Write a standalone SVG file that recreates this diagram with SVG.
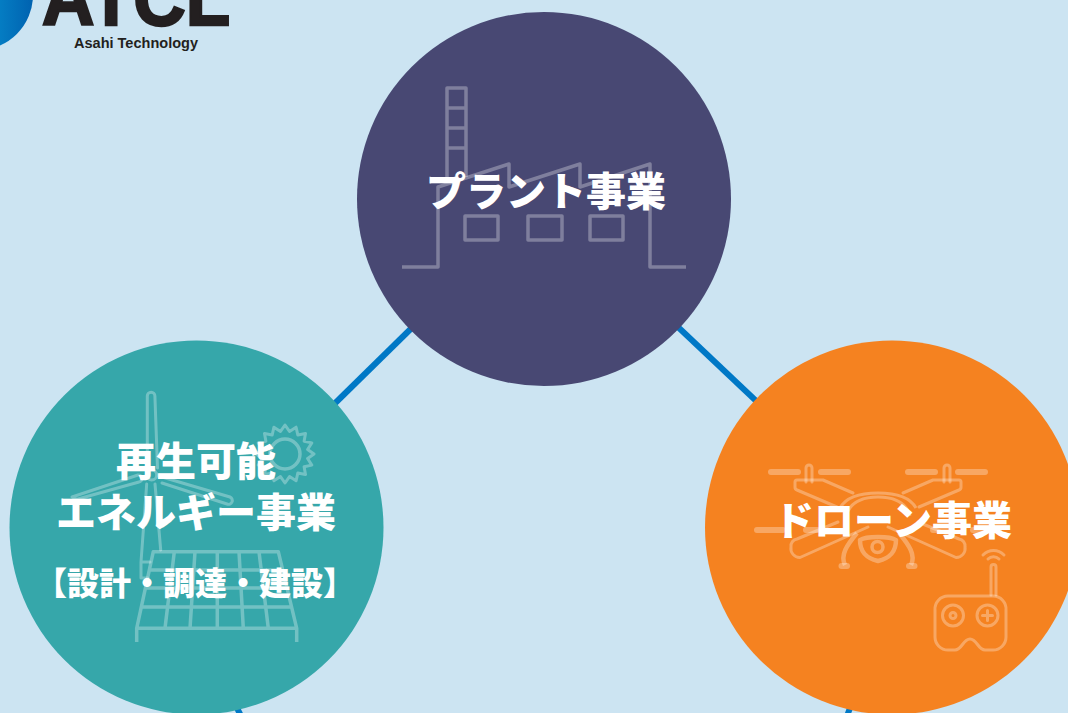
<svg xmlns="http://www.w3.org/2000/svg" xmlns:xlink="http://www.w3.org/1999/xlink" width="1068" height="713" viewBox="0 0 1068 713">
<style>
.circle-label{font-family:"Noto Sans CJK JP","Noto Sans CJK SC",sans-serif;font-weight:900;fill:#fff;text-anchor:middle;font-size:40px}
.sub{font-size:32px}
.ico{fill:none;stroke:#fff;stroke-opacity:.3;stroke-width:3.500;stroke-linejoin:round}
.ico2{fill:none;stroke:#fff;stroke-opacity:.3;stroke-width:3;stroke-linecap:round;stroke-linejoin:round}
.ico3{fill:none;stroke:#fff;stroke-opacity:.3;stroke-width:3;stroke-linejoin:round}
.thick{fill:none;stroke:#fff;stroke-opacity:.3;stroke-width:4.500;stroke-linejoin:round}
.pill{fill:none;stroke:#fff;stroke-opacity:.3;stroke-width:6;stroke-linecap:round}
.link{stroke:#0078c6;stroke-width:6;fill:none}
</style>
<defs>
<linearGradient id="logoGrad" x1="0" y1="0" x2="1" y2="0"><stop offset="0.3" stop-color="#0aa0dc"/><stop offset="1" stop-color="#0062b0"/></linearGradient>
<g id="droneHalf">
<path class="pill" d="M771 472H798M821 472H848"/>
<path class="ico2" d="M806 482V468a3 3 0 0 1 6 0V482"/>
<path class="ico2" d="M853 493L823 480H797a2 2 0 0 0-2 2V487a3 3 0 0 0 2 3L837 507"/>
<path class="pill" d="M757 530H783M806 530H823"/>
<path class="ico2" d="M838 522L797 539a7 7 0 0 0-6 8a9 9 0 0 0 9 10.500L868 527"/>
<path class="thick" d="M857 533C847 545 840 555 845 565"/>
<path class="pill" d="M841.500 566H847"/>
</g>
</defs>
<rect width="1068" height="713" fill="#cce4f2"/>
<g id="logo">
<circle cx="-22" cy="-5" r="55" fill="url(#logoGrad)"/>
<text x="42" y="25" font-family="'Liberation Sans',Arial,sans-serif" font-weight="700" font-size="78" fill="#231f20" stroke="#231f20" stroke-width="2.500" textLength="188" lengthAdjust="spacingAndGlyphs">ATCL</text>
<text x="74" y="47.500" font-family="'Liberation Sans',Arial,sans-serif" font-weight="700" font-size="14.500" fill="#231f20" textLength="124" lengthAdjust="spacingAndGlyphs">Asahi Technology</text>
</g>
<g id="connectors">
<path class="link" d="M430 310L320 418"/>
<path class="link" d="M660 310L770 414"/>
<path class="link" d="M228 690L241 716"/>
<path class="link" d="M856 692L847 716"/>
</g>
<g id="node-plant">
<circle cx="544" cy="199" r="187" fill="#484873"/>
<path class="ico" d="M447 177V88H466V177M447 108H466M447 128H466M447 148H466"/>
<path class="ico" d="M402 267H438V187L509 164V187L580 164V187L650 164V267H686"/>
<path class="ico" d="M465 216H498V240H465ZM528 216H562V240H528ZM590 216H623V240H590Z"/>
<text class="circle-label" x="546" y="206">プラント事業</text>
</g>
<g id="node-renewable">
<circle cx="196.500" cy="527.500" r="187" fill="#36a7aa"/>
<path class="ico2" d="M147.300 471V396a3.800 3.800 0 0 1 7.600 0L157.500 468"/>
<path class="ico2" d="M138 475L72 497C74 499 76 499 78 499L139 482a3 3 0 0 0-1-7Z"/>
<path class="ico2" d="M162 477L230 497a3 3 0 0 1-3 7L162 483"/>
<circle class="ico2" cx="151.700" cy="475" r="5"/>
<path class="ico2" d="M146.700 484L141 562V578H148M155 484L160.700 550M141 562H150"/>
<polygon class="ico2" points="314,454 307.600,458.500 311.800,465.100 304.100,466.800 305.500,474.500 297.800,473.100 296.100,480.800 289.500,476.600 285,483 280.500,476.600 273.900,480.800 272.200,473.100 264.500,474.500 265.900,466.800 258.200,465.100 262.400,458.500 256,454 262.400,449.500 258.200,442.900 265.900,441.200 264.500,433.500 272.200,434.900 273.900,427.200 280.500,431.400 285,425 289.500,431.400 296.100,427.200 297.800,434.900 305.500,433.500 304.100,441.200 311.800,442.900 307.600,449.500"/>
<circle class="ico" cx="285" cy="454" r="15"/>
<path class="ico" d="M136.700 642V628.300L153.300 551.700H278.300L296.700 628.300V642M136.700 628.300H296.700M149.300 570H282.700M145.400 588H287M141.300 607H291.600M174.300 551.700L165 628.300M195 551.700L190 628.300M217.300 551.700V628.300M239 551.700L243.300 628.300M259 551.700L268.300 628.300"/>
<text class="circle-label" x="196" y="476">再生可能</text>
<text class="circle-label" x="196" y="527">エネルギー事業</text>
<text class="circle-label sub" x="195" y="595">【設計・調達・建設】</text>
</g>
<g id="node-drone">
<circle cx="892" cy="527.500" r="187" fill="#f58220"/>
<use xlink:href="#droneHalf" href="#droneHalf"/>
<use xlink:href="#droneHalf" href="#droneHalf" transform="matrix(-1 0 0 1 1756 0)"/>
<path class="ico3" d="M840 508C846 497 860 493 878 493C896 493 910 497 916 508"/>
<path class="ico3" d="M846 516C850 502 862 497 878 497C894 497 906 502 910 516"/>
<path class="thick" d="M860 540C863 538 870 537 878 537C886 537 893 538 896 540C896 552 890 558 878 561C866 558 860 552 860 540Z"/>
<circle class="ico" cx="877.500" cy="547" r="5.500"/>
<path class="ico2" d="M935 610a13 13 0 0 1 13-14H993a13 13 0 0 1 13 14V637a13 13 0 0 1-13 13H985C978 650 977 639 970 639C963 639 962 650 955 650H948a13 13 0 0 1-13-13Z"/>
<circle class="ico2" cx="953" cy="615.500" r="10.500"/>
<circle class="ico2" cx="953" cy="615.500" r="3"/>
<circle class="ico2" cx="987.500" cy="615.500" r="10.500"/>
<path class="ico2" d="M987.500 610.500V620.500M982.500 615.500H992.500"/>
<path class="ico2" d="M991 595V567a2.500 2.500 0 0 1 5 0V595"/>
<path class="ico2" d="M983 555C989 549 998 549 1004 555M988 559C991 556 996 556 999 559"/>
<text class="circle-label" x="893" y="535">ドローン事業</text>
</g>
</svg>
